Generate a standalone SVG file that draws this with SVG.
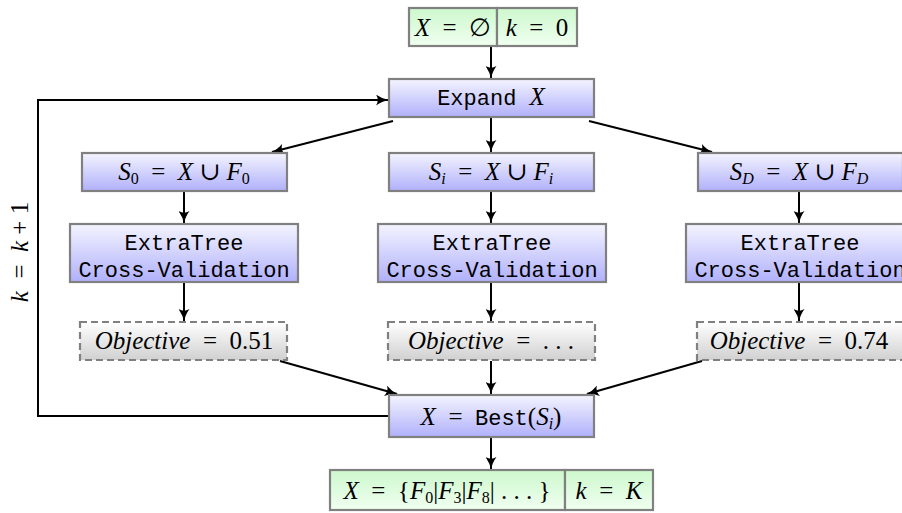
<svg xmlns="http://www.w3.org/2000/svg" width="902" height="513" viewBox="0 0 902 513">
<defs>
<linearGradient id="gb" x1="0" y1="0" x2="0" y2="1"><stop offset="0" stop-color="#f4f4ff"/><stop offset="1" stop-color="#b0b0fb"/></linearGradient>
<linearGradient id="gg" x1="0" y1="0" x2="0" y2="1"><stop offset="0" stop-color="#cdf8cd"/><stop offset="1" stop-color="#f0fff0"/></linearGradient>
<linearGradient id="gy" x1="0" y1="0" x2="0" y2="1"><stop offset="0" stop-color="#ffffff"/><stop offset="1" stop-color="#d0d0d0"/></linearGradient>
<marker id="ah" viewBox="0 0 13 11" refX="12" refY="5.5" markerWidth="13" markerHeight="11" markerUnits="userSpaceOnUse" orient="auto">
<path d="M0,0 Q6,4.5 13,5.5 Q6,6.5 0,11 Q3.5,5.5 0,0 Z" fill="#000"/>
</marker>
<style>
.b{fill:url(#gb);stroke:#808080;stroke-width:2.2}
.g{fill:url(#gg);stroke:#808080;stroke-width:2.2}
.o{fill:url(#gy);stroke:#808080;stroke-width:2.2;stroke-dasharray:7,4}
.m{font-family:"Liberation Serif","DejaVu Serif",serif;font-size:25px;fill:#000;white-space:pre}
.i{font-style:italic}
.t{font-family:"Liberation Mono","DejaVu Sans Mono",monospace;font-size:22px;fill:#000}
.s{font-size:16px}
.c{stroke:#000;stroke-width:2;fill:none}
</style>
</defs>
<g id="connectors">
<line class="c" x1="491" y1="46" x2="491" y2="78" marker-end="url(#ah)"/>
<line class="c" x1="491" y1="118" x2="491" y2="152" marker-end="url(#ah)"/>
<line class="c" x1="393" y1="121" x2="272" y2="152" marker-end="url(#ah)"/>
<line class="c" x1="589" y1="121" x2="712" y2="152" marker-end="url(#ah)"/>
<line class="c" x1="184" y1="192" x2="184" y2="223" marker-end="url(#ah)"/>
<line class="c" x1="491" y1="192" x2="491" y2="223" marker-end="url(#ah)"/>
<line class="c" x1="799" y1="192" x2="799" y2="223" marker-end="url(#ah)"/>
<line class="c" x1="184" y1="283" x2="184" y2="321" marker-end="url(#ah)"/>
<line class="c" x1="491" y1="283" x2="491" y2="321" marker-end="url(#ah)"/>
<line class="c" x1="799" y1="283" x2="799" y2="321" marker-end="url(#ah)"/>
<line class="c" x1="280" y1="361" x2="397" y2="394" marker-end="url(#ah)"/>
<line class="c" x1="491" y1="361" x2="491" y2="394" marker-end="url(#ah)"/>
<line class="c" x1="702" y1="361" x2="587" y2="394" marker-end="url(#ah)"/>
<line class="c" x1="491" y1="438" x2="491" y2="469" marker-end="url(#ah)"/>
<polyline class="c" points="389,416 38,416 38,100 388,100" marker-end="url(#ah)"/>
<text class="m" transform="translate(28,252) rotate(-90)" text-anchor="middle"><tspan class="i">k</tspan>  =  <tspan class="i">k</tspan> + 1</text>
</g>
<g id="start">
<rect class="g" x="409" y="8" width="88" height="38"/>
<rect class="g" x="497" y="8" width="80" height="38"/>
<text class="m" x="453" y="36" text-anchor="middle"><tspan class="i">X</tspan>  =  ∅</text>
<text class="m" x="537" y="36" text-anchor="middle"><tspan class="i">k</tspan>  =  0</text>
</g>
<g id="expand">
<rect class="b" x="389" y="79" width="205" height="38"/>
<text x="491" y="105" text-anchor="middle"><tspan class="t">Expand </tspan><tspan class="m i">X</tspan></text>
</g>
<g id="s0">
<rect class="b" x="82" y="153" width="205" height="38"/>
<text class="m" x="184" y="180" text-anchor="middle"><tspan class="i">S</tspan><tspan class="s" dy="4">0</tspan><tspan dy="-4">  =  </tspan><tspan class="i">X</tspan> ∪ <tspan class="i">F</tspan><tspan class="s" dy="4">0</tspan></text>
</g>
<g id="si">
<rect class="b" x="389" y="153" width="205" height="38"/>
<text class="m" x="491" y="180" text-anchor="middle"><tspan class="i">S</tspan><tspan class="s i" dy="4">i</tspan><tspan dy="-4">  =  </tspan><tspan class="i">X</tspan> ∪ <tspan class="i">F</tspan><tspan class="s i" dy="4">i</tspan></text>
</g>
<g id="sd">
<rect class="b" x="698" y="153" width="205" height="38"/>
<text class="m" x="799" y="180" text-anchor="middle"><tspan class="i">S</tspan><tspan class="s i" dy="4">D</tspan><tspan dy="-4">  =  </tspan><tspan class="i">X</tspan> ∪ <tspan class="i">F</tspan><tspan class="s i" dy="4">D</tspan></text>
</g>
<g id="et0">
<rect class="b" x="70" y="224" width="228" height="58"/>
<text class="t" x="184" y="250" text-anchor="middle">ExtraTree</text>
<text class="t" x="184" y="277" text-anchor="middle">Cross-Validation</text>
</g>
<g id="eti">
<rect class="b" x="378" y="224" width="228" height="58"/>
<text class="t" x="492" y="250" text-anchor="middle">ExtraTree</text>
<text class="t" x="492" y="277" text-anchor="middle">Cross-Validation</text>
</g>
<g id="etd">
<rect class="b" x="686" y="224" width="228" height="58"/>
<text class="t" x="800" y="250" text-anchor="middle">ExtraTree</text>
<text class="t" x="800" y="277" text-anchor="middle">Cross-Validation</text>
</g>
<g id="obj0">
<rect class="o" x="80" y="322" width="207" height="38"/>
<text class="m" x="184" y="349" text-anchor="middle"><tspan class="i">Objective</tspan>  =  0.51</text>
</g>
<g id="obji">
<rect class="o" x="388" y="322" width="207" height="38"/>
<text class="m" x="491" y="349" text-anchor="middle"><tspan class="i">Objective</tspan>  =  . . .</text>
</g>
<g id="objd">
<rect class="o" x="697" y="322" width="207" height="38"/>
<text class="m" x="799" y="349" text-anchor="middle"><tspan class="i">Objective</tspan>  =  0.74</text>
</g>
<g id="best">
<rect class="b" x="389" y="395" width="205" height="42"/>
<text class="m" x="491" y="425" text-anchor="middle"><tspan class="i">X</tspan>  =  <tspan class="t">Best</tspan>(<tspan class="i">S</tspan><tspan class="s i" dy="4">i</tspan><tspan dy="-4">)</tspan></text>
</g>
<g id="result">
<rect class="g" x="330" y="470" width="235" height="40"/>
<rect class="g" x="565" y="470" width="88" height="40"/>
<text class="m" x="447" y="499" text-anchor="middle"><tspan class="i">X</tspan>  =  {<tspan class="i">F</tspan><tspan class="s" dy="4">0</tspan><tspan dy="-4">|</tspan><tspan class="i">F</tspan><tspan class="s" dy="4">3</tspan><tspan dy="-4">|</tspan><tspan class="i">F</tspan><tspan class="s" dy="4">8</tspan><tspan dy="-4">| . . . }</tspan></text>
<text class="m" x="609" y="499" text-anchor="middle"><tspan class="i">k</tspan>  =  <tspan class="i">K</tspan></text>
</g>
</svg>
